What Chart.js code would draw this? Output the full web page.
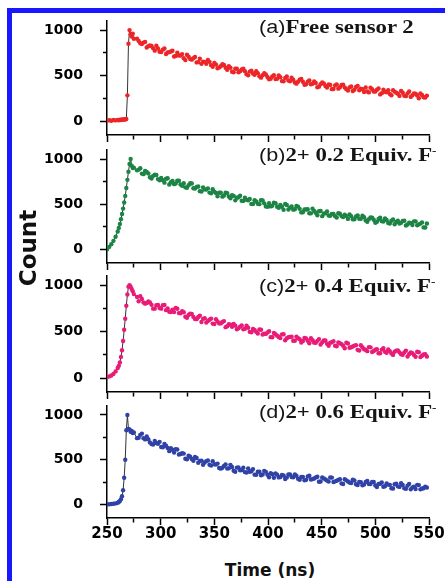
<!DOCTYPE html>
<html>
<head>
<meta charset="utf-8">
<script src="https://cdn.jsdelivr.net/npm/chart.js@4.4.1/dist/chart.umd.min.js"></script>
<style>
    html, body { margin: 0; padding: 0; background: #fff; overflow: hidden; }
    #figure { position: relative; width: 445px; height: 581px; overflow: hidden; background: #fff; }
    #frame { position: absolute; left: 7px; top: 8px; width: 1000px; height: 1000px;
             border-left: 5px solid #1818ff; border-top: 5px solid #1818ff; }
    canvas { position: absolute; left: 0; }
    .panel-title { position: absolute; left: 259px; white-space: nowrap; line-height: 1;
                   transform: scaleX(1.2); transform-origin: left center;
                   font: bold 19px "Liberation Serif", serif; color: #151515; }
    .panel-title .tag { font: normal 18px "Liberation Sans", sans-serif; }
    .panel-title sup { font-size: 11px; vertical-align: 7px; line-height: 0; }
    #countLabel { position: absolute; left: -32px; top: 234px; width: 120px; text-align: center;
                  transform: rotate(-90deg); font: bold 23px "DejaVu Sans", sans-serif; color: #111; line-height: 28px; }
    #timeLabel { position: absolute; left: 170px; top: 559px; width: 200px; text-align: center;
                 font: bold 17px "DejaVu Sans", sans-serif; color: #111; line-height: 22px; }
</style>
</head>
<body>
<div id="figure">
    <div id="frame"></div>
    <canvas id="panelA"></canvas>
    <canvas id="panelB"></canvas>
    <canvas id="panelC"></canvas>
    <canvas id="panelD"></canvas>
    <div class="panel-title" style="top:16px"><span class="tag">(a)</span>Free sensor 2</div>
    <div class="panel-title" style="top:144px"><span class="tag">(b)</span>2+ 0.2 Equiv. F<sup>-</sup></div>
    <div class="panel-title" style="top:275px"><span class="tag">(c)</span>2+ 0.4 Equiv. F<sup>-</sup></div>
    <div class="panel-title" style="top:401px"><span class="tag">(d)</span>2+ 0.6 Equiv. F<sup>-</sup></div>
    <div id="countLabel">Count</div>
    <div id="timeLabel">Time (ns)</div>
</div>
<script>
// time axis (ns): rising edge plus decay channels
const timeNs = [
    250, 252, 254, 256, 258, 260, 261, 262, 263, 264, 265, 266, 267, 268, 269, 270, 271, 272, 273, 274, 275,
    278, 281, 284, 287, 290, 293, 296, 299, 302, 305,
    308, 311, 314, 317, 320, 323, 326, 329, 332, 335,
    338, 341, 344, 347, 350, 353, 356, 359, 362, 365,
    368, 371, 374, 377, 380, 383, 386, 389, 392, 395,
    398, 401, 404, 407, 410, 413, 416, 419, 422, 425,
    428, 431, 434, 437, 440, 443, 446, 449, 452, 455,
    458, 461, 464, 467, 470, 473, 476, 479, 482, 485,
    488, 491, 494, 497, 500, 503, 506, 509, 512, 515,
    518, 521, 524, 527, 530, 533, 536, 539, 542, 545,
    548
];

// in-between decay channels (ns)
const timeNsMid = [
    279.5, 282.5, 285.5, 288.5, 291.5, 294.5, 297.5, 300.5, 303.5, 306.5,
    309.5, 312.5, 315.5, 318.5, 321.5, 324.5, 327.5, 330.5, 333.5, 336.5,
    339.5, 342.5, 345.5, 348.5, 351.5, 354.5, 357.5, 360.5, 363.5, 366.5,
    369.5, 372.5, 375.5, 378.5, 381.5, 384.5, 387.5, 390.5, 393.5, 396.5,
    399.5, 402.5, 405.5, 408.5, 411.5, 414.5, 417.5, 420.5, 423.5, 426.5,
    429.5, 432.5, 435.5, 438.5, 441.5, 444.5, 447.5, 450.5, 453.5, 456.5,
    459.5, 462.5, 465.5, 468.5, 471.5, 474.5, 477.5, 480.5, 483.5, 486.5,
    489.5, 492.5, 495.5, 498.5, 501.5, 504.5, 507.5, 510.5, 513.5, 516.5,
    519.5, 522.5, 525.5, 528.5, 531.5, 534.5, 537.5, 540.5, 543.5, 546.5
];

// (a) free sensor 2
const freeSensorCounts = [
    8, 12, 6, 14, 10, 16, 12, 18, 15, 20, 17, 22, 20, 25, 285, 850, 1000, 955, 930, 960, 905,
    906, 856, 863, 809, 832, 800, 828, 763, 786, 738,
    759, 774, 717, 722, 737, 671, 708, 676, 705, 649,
    630, 652, 672, 616, 639, 582, 604, 617, 565, 588,
    537, 577, 549, 576, 517, 545, 524, 549, 493, 505,
    513, 460, 491, 463, 504, 441, 476, 448, 477, 425,
    434, 464, 401, 435, 406, 436, 374, 407, 414, 371,
    399, 354, 403, 374, 401, 353, 372, 333, 376, 341,
    352, 371, 317, 351, 327, 361, 309, 324, 341, 286,
    326, 302, 332, 280, 306, 268, 306, 283, 306, 264,
    282
];
const freeSensorCountsMid = [
    882, 848, 871, 824, 827, 775, 799, 760, 798, 754,
    765, 711, 752, 721, 692, 730, 682, 693, 646, 686,
    653, 630, 652, 597, 623, 591, 626, 587, 604, 544,
    577, 537, 569, 550, 504, 554, 511, 528, 479, 528,
    486, 466, 506, 466, 483, 438, 491, 439, 456, 413,
    456, 434, 407, 449, 412, 420, 380, 426, 388, 405,
    353, 392, 358, 398, 372, 337, 381, 346, 389, 357,
    322, 327, 369, 327, 346, 295, 347, 318, 299, 342,
    313, 279, 313, 276, 328, 286, 304, 253, 288, 262
];

// (b) 2 + 0.2 equiv. F-
const equiv02Counts = [
    0, 28, 58, 95, 140, 198, 238, 282, 335, 392, 452, 520, 592, 680, 770, 860, 945, 1000, 925, 900, 905,
    875, 898, 833, 856, 798, 814, 824, 764, 767, 782,
    718, 758, 729, 760, 704, 687, 710, 729, 674, 696,
    641, 664, 676, 621, 640, 588, 627, 597, 623, 565,
    592, 571, 594, 537, 550, 558, 502, 531, 501, 541,
    476, 511, 482, 512, 461, 472, 503, 441, 476, 445,
    474, 410, 441, 445, 399, 425, 378, 425, 395, 421,
    373, 392, 353, 395, 359, 369, 387, 333, 365, 339,
    373, 321, 335, 352, 296, 337, 313, 344, 292, 317,
    278, 317, 294, 318, 276, 294, 310, 267, 286, 244,
    287
];
const equiv02CountsMid = [
    883, 839, 868, 841, 785, 827, 778, 790, 739, 788,
    744, 722, 761, 718, 732, 683, 732, 677, 690, 645,
    687, 662, 629, 666, 624, 628, 584, 627, 585, 599,
    543, 577, 538, 573, 543, 504, 545, 506, 545, 510,
    472, 476, 517, 473, 491, 439, 491, 461, 440, 481,
    449, 411, 442, 401, 450, 406, 422, 368, 402, 376,
    393, 368, 401, 369, 385, 338, 368, 334, 377, 339,
    356, 307, 354, 328, 305, 350, 309, 327, 286, 331,
    304, 287, 315, 265, 296, 270, 311, 277, 299, 242
];

// (c) 2 + 0.4 equiv. F-
const equiv04Counts = [
    12, 18, 28, 45, 72, 108, 132, 168, 228, 300, 400, 520, 640, 780, 900, 985, 1000, 985, 960, 935, 905,
    874, 881, 814, 809, 814, 748, 785, 755, 786, 732,
    715, 738, 757, 700, 721, 661, 680, 691, 637, 658,
    605, 644, 615, 641, 582, 609, 589, 614, 559, 574,
    583, 526, 555, 525, 564, 498, 529, 498, 524, 469,
    476, 505, 440, 473, 442, 471, 408, 440, 446, 402,
    429, 383, 432, 403, 430, 382, 401, 362, 405, 370,
    380, 398, 343, 375, 349, 381, 327, 340, 355, 297,
    333, 305, 334, 281, 305, 268, 307, 284, 308, 266,
    283, 299, 256, 275, 232, 276, 250, 284, 226, 255,
    232
];
const equiv04CountsMid = [
    828, 852, 802, 826, 789, 748, 787, 748, 787, 751,
    711, 711, 747, 698, 709, 650, 695, 659, 635, 672,
    638, 598, 628, 587, 634, 589, 604, 549, 581, 552,
    565, 536, 566, 531, 543, 493, 518, 481, 521, 478,
    492, 441, 485, 457, 431, 473, 429, 444, 402, 447,
    419, 400, 427, 376, 407, 380, 420, 385, 406, 349,
    386, 349, 383, 366, 322, 373, 332, 350, 304, 354,
    311, 290, 331, 292, 311, 268, 323, 273, 291, 250,
    296, 277, 252, 296, 260, 269, 230, 278, 240, 257
];

// (d) 2 + 0.6 equiv. F-
const equiv06Counts = [
    2, 4, 6, 9, 13, 20, 28, 40, 60, 92, 160, 300, 500, 830, 1000, 845, 838, 812, 822, 798, 805,
    741, 778, 741, 760, 694, 670, 687, 700, 640, 657,
    596, 612, 619, 558, 572, 512, 545, 509, 530, 467,
    490, 469, 493, 435, 449, 457, 401, 431, 403, 443,
    378, 412, 383, 410, 357, 366, 396, 332, 366, 336,
    365, 304, 338, 346, 303, 331, 286, 336, 308, 335,
    288, 308, 270, 314, 280, 291, 311, 258, 292, 268,
    302, 251, 266, 283, 229, 270, 246, 277, 226, 252,
    215, 253, 229, 253, 212, 230, 246, 204, 223, 182,
    227, 203, 238, 181, 211, 170, 198, 220, 170, 182,
    190
];
const equiv06CountsMid = [
    746, 792, 727, 729, 675, 709, 678, 642, 676, 631,
    630, 580, 615, 564, 569, 505, 533, 489, 520, 486,
    445, 485, 445, 483, 447, 408, 410, 449, 404, 419,
    365, 415, 384, 362, 402, 371, 334, 366, 327, 376,
    333, 351, 299, 334, 308, 325, 301, 336, 305, 322,
    277, 308, 276, 321, 284, 302, 255, 303, 279, 256,
    301, 259, 276, 236, 283, 257, 240, 268, 218, 250,
    223, 263, 229, 251, 195, 233, 198, 235, 220, 180,
    234, 197, 218, 176, 231, 192, 174, 217, 180, 200
];

const xTickValues = [250, 275, 300, 325, 350, 375, 400, 425, 450, 475, 500, 525, 550];
const yTickValues = [0, 250, 500, 750, 1000];

const X_MIN = 250, X_MAX = 550;
const Y_MIN = -150, Y_MAX = 1100;
const RISE_END = 276;       // fit line only visible over the rising edge
const PAD_TOP = 4;
const Y_AXIS_WIDTH = 107;
const RIGHT_PAD = 16;
const POINT_R = 2.2;

// chart-area placement of each panel on the page
const panels = [
    { id: 'panelA', counts: freeSensorCounts, mid: freeSensorCountsMid, color: 'rgb(236, 38, 40)', areaTop: 21,  areaBottom: 135, axisHeight: 10, labels: false },
    { id: 'panelB', counts: equiv02Counts,    mid: equiv02CountsMid,    color: 'rgb(28, 132, 68)',  areaTop: 150, areaBottom: 263, axisHeight: 10, labels: false },
    { id: 'panelC', counts: equiv04Counts,    mid: equiv04CountsMid,    color: 'rgb(232, 28, 118)', areaTop: 276, areaBottom: 392, axisHeight: 10, labels: false },
    { id: 'panelD', counts: equiv06Counts,    mid: equiv06CountsMid,    color: 'rgb(48, 66, 166)',  areaTop: 406, areaBottom: 518, axisHeight: 30, labels: true }
];

function buildPanel(panel) {
    const canvas = document.getElementById(panel.id);
    const height = PAD_TOP + (panel.areaBottom - panel.areaTop) + panel.axisHeight;
    canvas.width = 445;
    canvas.height = height;
    canvas.style.top = (panel.areaTop - PAD_TOP) + 'px';

    const points = timeNs.map((t, i) => ({ x: t, y: panel.counts[i] }));
    const midPoints = timeNsMid.map((t, i) => ({ x: t, y: panel.mid[i] }));

    return new Chart(canvas, {
        type: 'line',
        data: {
            datasets: [
                {
                    data: points,
                    borderColor: '#333',
                    borderWidth: 1,
                    pointRadius: POINT_R,
                    pointHoverRadius: 0,
                    pointBorderWidth: 0,
                    pointBackgroundColor: panel.color,
                    segment: {
                        borderColor: ctx => timeNs[ctx.p0DataIndex] >= RISE_END ? 'rgba(0,0,0,0)' : '#333'
                    }
                },
                {
                    data: midPoints,
                    showLine: false,
                    pointRadius: POINT_R,
                    pointHoverRadius: 0,
                    pointBorderWidth: 0,
                    pointBackgroundColor: panel.color
                }
            ]
        },
        options: {
            responsive: false,
            animation: false,
            events: [],
            layout: { padding: { top: PAD_TOP, right: RIGHT_PAD, left: 0, bottom: 0 } },
            plugins: { legend: { display: false }, tooltip: { enabled: false } },
            scales: {
                x: {
                    type: 'linear',
                    min: X_MIN,
                    max: X_MAX,
                    afterBuildTicks: scale => { scale.ticks = xTickValues.map(v => ({ value: v })); },
                    afterFit: scale => {
                        scale.height = panel.axisHeight;
                        scale.paddingLeft = 0;
                        scale.paddingRight = 0;
                    },
                    border: { color: '#000', width: 1.5 },
                    grid: {
                        drawOnChartArea: false,
                        tickLength: 7,
                        tickColor: '#000',
                        tickWidth: 1.5,
                        tickBorderDash: ctx => (ctx.tick && ctx.tick.value % 50 === 0) ? [] : [4, 100]
                    },
                    ticks: {
                        color: '#000',
                        padding: 0,
                        maxRotation: 0,
                        autoSkip: false,
                        font: { family: 'DejaVu Sans', weight: 'bold', size: 15 },
                        callback: v => (panel.labels && v % 50 === 0) ? String(v) : ''
                    }
                },
                y: {
                    min: Y_MIN,
                    max: Y_MAX,
                    afterBuildTicks: scale => { scale.ticks = yTickValues.map(v => ({ value: v })); },
                    afterFit: scale => {
                        scale.width = Y_AXIS_WIDTH;
                        scale.paddingTop = 0;
                        scale.paddingBottom = 0;
                    },
                    border: { color: '#000', width: 1.5 },
                    grid: {
                        drawOnChartArea: false,
                        tickLength: 7,
                        tickColor: '#000',
                        tickWidth: 1.5,
                        tickBorderDash: ctx => (ctx.tick && ctx.tick.value % 500 === 0) ? [] : [0, 3, 4, 100]
                    },
                    ticks: {
                        color: '#000',
                        padding: 17,
                        autoSkip: false,
                        font: { family: 'DejaVu Sans', weight: 'bold', size: 14 },
                        callback: v => (v % 500 === 0) ? String(v) : ''
                    }
                }
            }
        }
    });
}

panels.forEach(buildPanel);
</script>
</body>
</html>
